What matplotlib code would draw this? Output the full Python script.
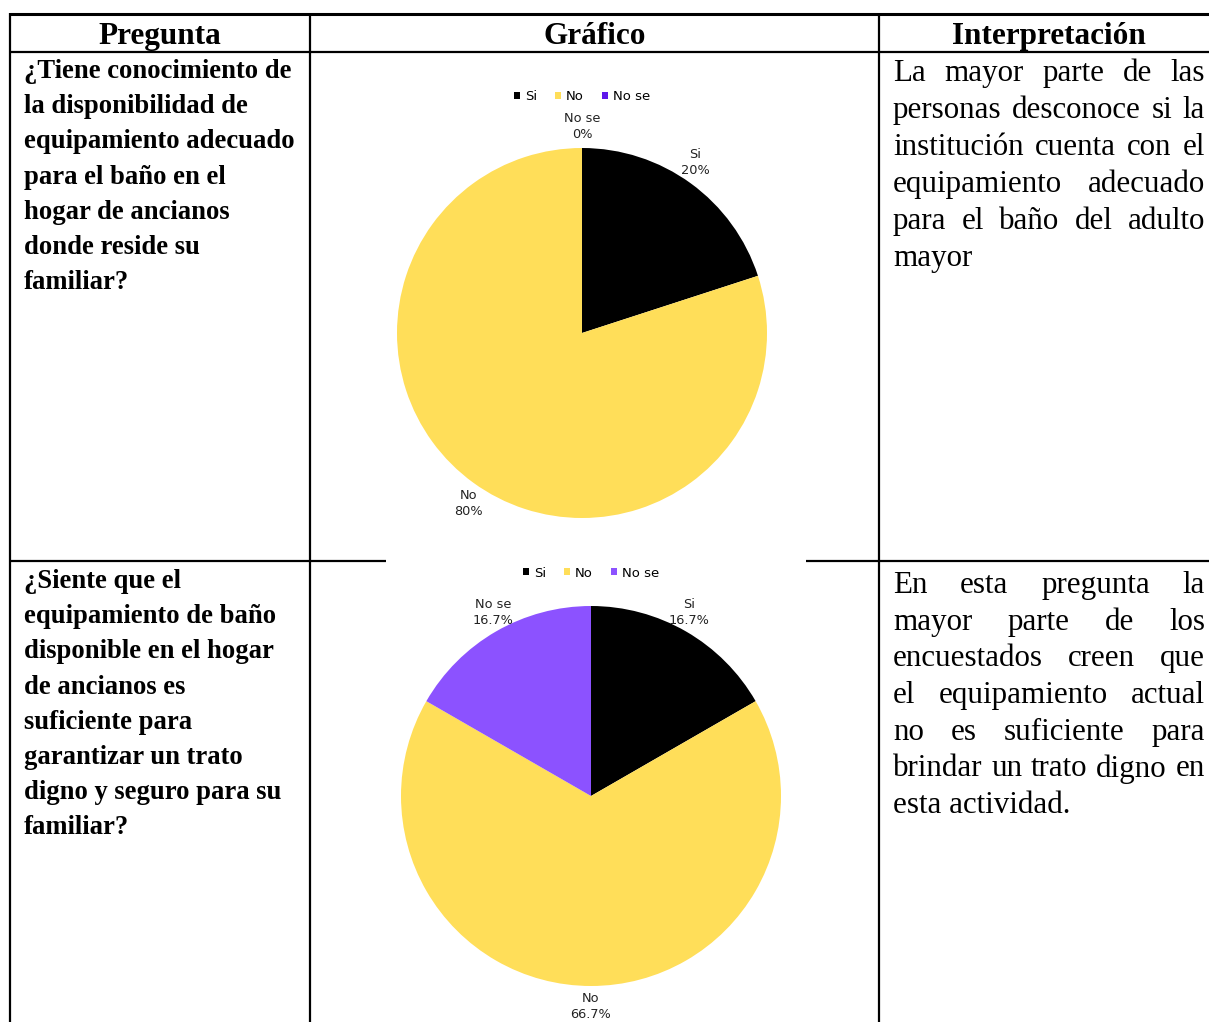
import matplotlib
matplotlib.use("Agg")
import matplotlib.pyplot as plt
from matplotlib.patches import Patch

# ---------------- data ----------------
headers = ["Pregunta", "Gráfico", "Interpretación"]

q1_lines = ["¿Tiene conocimiento de", "la disponibilidad de", "equipamiento adecuado",
            "para el baño en el", "hogar de ancianos", "donde reside su", "familiar?"]
q2_lines = ["¿Siente que el", "equipamiento de baño", "disponible en el hogar",
            "de ancianos es", "suficiente para", "garantizar un trato",
            "digno y seguro para su", "familiar?"]

i1_lines = ["La mayor parte de las", "personas desconoce si la", "institución cuenta con el",
            "equipamiento adecuado", "para el baño del adulto", "mayor"]
i2_lines = ["En esta pregunta la", "mayor parte de los", "encuestados creen que",
            "el equipamiento actual", "no es suficiente para", "brindar un trato digno en",
            "esta actividad."]

categories = ["Si", "No", "No se"]
pie1_values = [20, 80, 0]
pie2_values = [16.7, 66.7, 16.7]
pie1_fmt = "{:.0f}%"
pie2_fmt = "{:.1f}%"

pie1_colors = ["#000000", "#FFDE59", "#5E17EB"]
pie2_colors = ["#000000", "#FFDE59", "#8C52FF"]

# ---------------- figure ----------------
W, H = 1209, 1022
fig = plt.figure(figsize=(W / 100, H / 100), dpi=100)
ax = fig.add_axes([0, 0, 1, 1])
ax.set_xlim(0, W)
ax.set_ylim(H, 0)
ax.axis("off")

serif = "Liberation Serif"
lw = 1.6

# table lines
x_left, x_c1, x_c2 = 10, 310, 879
y_top, y_head, y_row = 14, 52, 561
ax.plot([x_left, W], [y_top, y_top], color="black", lw=2.2, solid_capstyle="butt")
ax.plot([x_left, W], [y_head, y_head], color="black", lw=lw, solid_capstyle="butt")
for x in (x_left, x_c1, x_c2):
    ax.plot([x, x], [y_top - 1, H], color="black", lw=lw, solid_capstyle="butt")
# row separator interrupted by chart 2's white background
ax.plot([x_left, 386], [y_row, y_row], color="black", lw=lw, solid_capstyle="butt")
ax.plot([806, W], [y_row, y_row], color="black", lw=lw, solid_capstyle="butt")

# headers
head_x = [(x_left + x_c1) / 2, (x_c1 + x_c2) / 2, 1049]
for hx, txt in zip(head_x, headers):
    ax.text(hx, 44, txt, ha="center", va="baseline", fontsize=22.5,
            fontweight="bold", family=serif)

# question text (left aligned)
def left_lines(lines, x, y0, dy, **kw):
    for i, ln in enumerate(lines):
        ax.text(x, y0 + i * dy, ln, ha="left", va="baseline", **kw)

left_lines(q1_lines, 24, 78, 35.2, fontsize=19.2, fontweight="bold", family=serif)
left_lines(q2_lines, 24, 588, 35.2, fontsize=19.2, fontweight="bold", family=serif)

# justified interpretation text
renderer = fig.canvas.get_renderer()

def justified(lines, x0, x1, y0, dy, **kw):
    for i, ln in enumerate(lines):
        y = y0 + i * dy
        words = ln.split(" ")
        last = (i == len(lines) - 1)
        if last or len(words) == 1:
            ax.text(x0, y, ln, ha="left", va="baseline", **kw)
            continue
        texts = [ax.text(0, y, w, ha="left", va="baseline", **kw) for w in words]
        widths = [t.get_window_extent(renderer).width for t in texts]
        gap = (x1 - x0 - sum(widths)) / (len(words) - 1)
        x = x0
        for t, wdt in zip(texts, widths):
            t.set_x(x)
            x += wdt + gap

justified(i1_lines, 893, 1205, 81, 37.0, fontsize=22.3, family=serif)
justified(i2_lines, 893, 1205, 593, 36.7, fontsize=22.3, family=serif)

# ---------------- pies ----------------
def draw_pie(cx, cy, r, values, colors, fmt, leg_y, leg_x, ldist):
    R = r * 1.35
    pax = fig.add_axes([(cx - R) / W, 1 - (cy + R) / H, 2 * R / W, 2 * R / H])
    labels = [f"{c}\n{fmt.format(v)}" for c, v in zip(categories, values)]
    wedges, texts = pax.pie(values, colors=colors, startangle=90, counterclock=False,
                            labels=labels, labeldistance=ldist,
                            wedgeprops=dict(linewidth=0),
                            textprops=dict(fontsize=9.3, color="#222222",
                                           family="DejaVu Sans", linespacing=1.3))
    for t in texts:
        _, ty = t.get_position()
        t.set_ha("center")
        t.set_va("bottom" if ty >= 0 else "top")
    pax.set_xlim(-1.35, 1.35)
    pax.set_ylim(-1.35, 1.35)
    pax.set_aspect("equal")
    pax.axis("off")
    handles = [Patch(facecolor=c, edgecolor="none") for c in colors]
    fig.legend(handles, categories, loc="center", ncol=3, frameon=False,
               bbox_to_anchor=(leg_x / W, 1 - leg_y / H),
               handlelength=0.45, handleheight=0.45,
               handletextpad=0.35, columnspacing=1.4,
               prop=dict(family="DejaVu Sans", size=9.5))

draw_pie(582, 333, 185, pie1_values, pie1_colors, pie1_fmt, 97, 582, 1.04)
draw_pie(591, 796, 190, pie2_values, pie2_colors, pie2_fmt, 573, 591, 1.03)

fig.savefig("out.png", dpi=100)
